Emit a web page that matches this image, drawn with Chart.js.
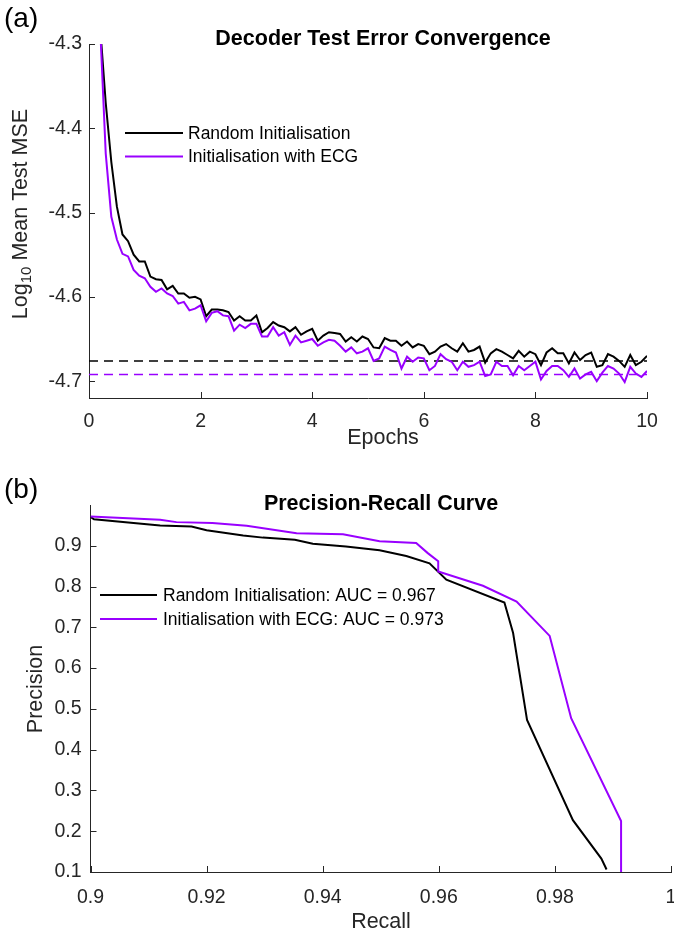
<!DOCTYPE html>
<html lang="en">
<head>
<meta charset="UTF-8">
<title>Decoder Test Error Convergence / Precision-Recall Curve</title>
<script src="https://cdn.jsdelivr.net/npm/chart.js"></script>
<style>
  body { margin: 0; background: #fff; }
  canvas { position: absolute; left: 0; }
  #convChart { top: 0; }
  #prChart { top: 460px; }
</style>
</head>
<body>
<canvas id="convChart" width="674" height="460"></canvas>
<canvas id="prChart" width="674" height="475"></canvas>
<script>
// ---- (a) decoder test error ----
const epochs = [0.2, 0.3, 0.4, 0.5, 0.6, 0.7, 0.8, 0.9,
  1.0, 1.1, 1.2, 1.3, 1.4, 1.5, 1.6, 1.7, 1.8, 1.9,
  2.0, 2.1, 2.2, 2.3, 2.4, 2.5, 2.6, 2.7, 2.8, 2.9,
  3.0, 3.1, 3.2, 3.3, 3.4, 3.5, 3.6, 3.7, 3.8, 3.9,
  4.0, 4.1, 4.2, 4.3, 4.4, 4.5, 4.6, 4.7, 4.8, 4.9,
  5.0, 5.1, 5.2, 5.3, 5.4, 5.5, 5.6, 5.7, 5.8, 5.9,
  6.0, 6.1, 6.2, 6.3, 6.4, 6.5, 6.6, 6.7, 6.8, 6.9,
  7.0, 7.1, 7.2, 7.3, 7.4, 7.5, 7.6, 7.7, 7.8, 7.9,
  8.0, 8.1, 8.2, 8.3, 8.4, 8.5, 8.6, 8.7, 8.8, 8.9,
  9.0, 9.1, 9.2, 9.3, 9.4, 9.5, 9.6, 9.7, 9.8, 9.9,
  10.0];
const mseRandom = [-4.28, -4.37, -4.44, -4.493, -4.526, -4.534, -4.550, -4.558,
  -4.558, -4.576, -4.579, -4.580, -4.591, -4.587, -4.596, -4.596, -4.601, -4.600,
  -4.603, -4.623, -4.615, -4.615, -4.616, -4.618, -4.628, -4.623, -4.628, -4.628,
  -4.622, -4.642, -4.637, -4.630, -4.634, -4.636, -4.641, -4.636, -4.645, -4.641,
  -4.638, -4.652, -4.646, -4.642, -4.643, -4.644, -4.653, -4.648, -4.653, -4.647,
  -4.650, -4.660, -4.661, -4.649, -4.652, -4.652, -4.658, -4.653, -4.660, -4.656,
  -4.658, -4.668, -4.665, -4.659, -4.656, -4.661, -4.665, -4.655, -4.665, -4.663,
  -4.659, -4.678, -4.667, -4.662, -4.665, -4.669, -4.673, -4.664, -4.671, -4.665,
  -4.668, -4.681, -4.666, -4.661, -4.667, -4.667, -4.679, -4.666, -4.675, -4.669,
  -4.666, -4.683, -4.681, -4.668, -4.671, -4.676, -4.683, -4.669, -4.681, -4.677,
  -4.670];
const mseEcg = [-4.28, -4.43, -4.505, -4.532, -4.549, -4.552, -4.568, -4.575,
  -4.578, -4.588, -4.594, -4.590, -4.596, -4.599, -4.608, -4.606, -4.616, -4.614,
  -4.610, -4.629, -4.619, -4.617, -4.622, -4.623, -4.640, -4.633, -4.637, -4.632,
  -4.632, -4.647, -4.647, -4.636, -4.646, -4.642, -4.657, -4.646, -4.654, -4.652,
  -4.650, -4.658, -4.654, -4.651, -4.652, -4.658, -4.665, -4.660, -4.667, -4.665,
  -4.661, -4.676, -4.673, -4.659, -4.663, -4.666, -4.685, -4.671, -4.677, -4.672,
  -4.673, -4.687, -4.682, -4.668, -4.674, -4.677, -4.687, -4.677, -4.683, -4.681,
  -4.677, -4.694, -4.692, -4.677, -4.682, -4.682, -4.693, -4.682, -4.687, -4.682,
  -4.677, -4.698, -4.688, -4.682, -4.682, -4.687, -4.695, -4.685, -4.697, -4.692,
  -4.689, -4.700, -4.690, -4.682, -4.685, -4.691, -4.701, -4.683, -4.691, -4.695,
  -4.688];
const bestRandom = -4.676;
const bestEcg = -4.692;
const epochTicks = [0, 2, 4, 6, 8, 10];
const mseTicks = [-4.7, -4.6, -4.5, -4.4, -4.3];

// ---- (b) precision-recall ----
const recallRandom = [0.9, 0.9006, 0.9097, 0.912, 0.9174, 0.920, 0.9263, 0.9297, 0.9352, 0.9383,
  0.944, 0.9498, 0.9544, 0.9584, 0.9613, 0.9713, 0.9728, 0.9752, 0.9831, 0.9880, 0.9889];
const precisionRandom = [0.971, 0.965, 0.953, 0.950, 0.9475, 0.938, 0.925, 0.920, 0.915, 0.905,
  0.898, 0.889, 0.875, 0.857, 0.817, 0.761, 0.686, 0.473, 0.227, 0.133, 0.106];
const recallEcg = [0.9, 0.912, 0.9148, 0.921, 0.9269, 0.9355, 0.9435, 0.9498, 0.9561, 0.9581,
  0.9599, 0.9599, 0.9676, 0.9734, 0.9791, 0.9828, 0.9914, 0.9914];
const precisionEcg = [0.972, 0.964, 0.958, 0.956, 0.949, 0.931, 0.928, 0.911, 0.907, 0.882,
  0.862, 0.837, 0.802, 0.763, 0.679, 0.477, 0.225, 0.1];
const recallTicks = [0.9, 0.92, 0.94, 0.96, 0.98, 1];
const precisionTicks = [0.1, 0.2, 0.3, 0.4, 0.5, 0.6, 0.7, 0.8, 0.9];

const seriesLabels = ['Random Initialisation', 'Initialisation with ECG'];
const aucValues = [0.967, 0.973];

const FONT = '"Liberation Sans", Arial, Helvetica, sans-serif';
const AXIS = '#262626';
const BLACK = '#000000';
const PURPLE = '#9900ff';

Chart.defaults.font.family = FONT;
Chart.defaults.color = AXIS;

function pts(xs, ys) {
  return xs.map((x, i) => ({ x: x, y: ys[i] }));
}

// inward ticks, panel letter, titles, axis labels and inline legend
function decor(cfg) {
  return {
    id: 'decor',
    afterDraw(chart) {
      const ctx = chart.ctx, a = chart.chartArea;
      const sx = chart.scales.x, sy = chart.scales.y;
      ctx.save();
      ctx.strokeStyle = AXIS;
      ctx.lineWidth = 1;
      ctx.beginPath();
      sx.ticks.forEach(t => {
        const p = Math.round(sx.getPixelForValue(t.value)) + 0.5;
        ctx.moveTo(p, a.bottom); ctx.lineTo(p, a.bottom - 6);
      });
      sy.ticks.forEach(t => {
        const p = Math.round(sy.getPixelForValue(t.value)) + 0.5;
        ctx.moveTo(a.left, p); ctx.lineTo(a.left + 6, p);
      });
      ctx.stroke();

      ctx.fillStyle = BLACK;
      ctx.textAlign = 'left';
      ctx.textBaseline = 'alphabetic';
      ctx.font = '28px ' + FONT;
      ctx.fillText(cfg.letter, 4, cfg.letterY);

      ctx.textAlign = 'center';
      ctx.font = 'bold 21.5px ' + FONT;
      ctx.fillText(cfg.title, cfg.titleX, cfg.titleY);

      ctx.fillStyle = AXIS;
      ctx.font = '21.5px ' + FONT;
      ctx.fillText(cfg.xLabel, cfg.xLabelX, cfg.xLabelY);

      // rotated y label, may hold a subscript part
      ctx.save();
      ctx.translate(cfg.yLabelX, cfg.yLabelY);
      ctx.rotate(-Math.PI / 2);
      ctx.textAlign = 'left';
      ctx.textBaseline = 'middle';
      let w = 0;
      cfg.yLabel.forEach(p => { ctx.font = p.size + 'px ' + FONT; w += ctx.measureText(p.t).width; });
      let cx = -w / 2;
      cfg.yLabel.forEach(p => {
        ctx.font = p.size + 'px ' + FONT;
        ctx.fillText(p.t, cx, p.dy);
        cx += ctx.measureText(p.t).width;
      });
      ctx.restore();

      // legend
      const lg = cfg.legend;
      ctx.font = '17.5px ' + FONT;
      ctx.textAlign = 'left';
      ctx.textBaseline = 'middle';
      lg.items.forEach((it, i) => {
        const y = lg.y0 + i * lg.dy;
        ctx.strokeStyle = it.color;
        ctx.lineWidth = 2;
        ctx.beginPath();
        ctx.moveTo(lg.x1, y); ctx.lineTo(lg.x2, y);
        ctx.stroke();
        ctx.fillStyle = BLACK;
        ctx.fillText(it.label, lg.textX, y + 1);
      });
      ctx.restore();
    }
  };
}

function axisScale(min, max, tickVals, fmt, pad, size, isX) {
  return {
    type: 'linear',
    min: min,
    max: max,
    grid: { display: false, drawTicks: false },
    border: { display: true, color: AXIS, width: 1 },
    ticks: { font: { size: 19.5 }, color: AXIS, padding: pad, maxRotation: 0, autoSkip: false, callback: fmt },
    afterBuildTicks: s => { s.ticks = tickVals.map(v => ({ value: v })); },
    afterFit: s => {
      if (isX) { s.height = size; } else { s.width = size; }
      s.paddingLeft = 0; s.paddingRight = 0; s.paddingTop = 0; s.paddingBottom = 0;
    }
  };
}

new Chart(document.getElementById('convChart'), {
  type: 'scatter',
  data: {
    datasets: [
      { label: seriesLabels[0], data: pts(epochs, mseRandom), borderColor: BLACK, borderWidth: 2, showLine: true, pointRadius: 0, order: 1, clip: 0 },
      { label: seriesLabels[1], data: pts(epochs, mseEcg), borderColor: PURPLE, borderWidth: 2, showLine: true, pointRadius: 0, order: 0, clip: 0 },
      { label: 'best random', data: [{ x: 0, y: bestRandom }, { x: 10, y: bestRandom }], borderColor: BLACK, borderWidth: 1.5, borderDash: [9, 6], showLine: true, pointRadius: 0, order: 2 },
      { label: 'best ecg', data: [{ x: 0, y: bestEcg }, { x: 10, y: bestEcg }], borderColor: PURPLE, borderWidth: 1.5, borderDash: [9, 6], showLine: true, pointRadius: 0, order: 2 }
    ]
  },
  options: {
    responsive: false,
    animation: false,
    layout: { padding: { top: 44, right: 27, left: 0, bottom: 0 } },
    plugins: { legend: { display: false }, tooltip: { enabled: false } },
    scales: {
      x: axisScale(0, 10, epochTicks, v => String(v), 12, 62, true),
      y: axisScale(-4.72, -4.3, mseTicks, v => v.toFixed(1), 7, 89, false)
    }
  },
  plugins: [decor({
    letter: '(a)', letterY: 27,
    title: 'Decoder Test Error Convergence', titleX: 383, titleY: 45,
    xLabel: 'Epochs', xLabelX: 383, xLabelY: 444,
    yLabel: [{ t: 'Log', size: 21.5, dy: 0 }, { t: '10', size: 15, dy: 6 }, { t: ' Mean Test MSE', size: 21.5, dy: 0 }],
    yLabelX: 21, yLabelY: 214,
    legend: { x1: 125, x2: 183, textX: 188, y0: 133, dy: 23.5,
      items: [{ label: seriesLabels[0], color: BLACK }, { label: seriesLabels[1], color: PURPLE }] }
  })]
});

new Chart(document.getElementById('prChart'), {
  type: 'scatter',
  data: {
    datasets: [
      { label: seriesLabels[0], data: pts(recallRandom, precisionRandom), borderColor: BLACK, borderWidth: 2, showLine: true, pointRadius: 0, order: 1, clip: 0 },
      { label: seriesLabels[1], data: pts(recallEcg, precisionEcg), borderColor: PURPLE, borderWidth: 2, showLine: true, pointRadius: 0, order: 0, clip: 0 }
    ]
  },
  options: {
    responsive: false,
    animation: false,
    layout: { padding: { top: 45, right: 3, left: 0, bottom: 0 } },
    plugins: { legend: { display: false }, tooltip: { enabled: false } },
    scales: {
      x: axisScale(0.9, 1, recallTicks, v => String(+v.toFixed(2)), 14, 63, true),
      y: axisScale(0.1, 1, precisionTicks, v => v.toFixed(1), 9, 90.5, false)
    }
  },
  plugins: [decor({
    letter: '(b)', letterY: 38,
    title: 'Precision-Recall Curve', titleX: 381, titleY: 50,
    xLabel: 'Recall', xLabelX: 381, xLabelY: 468,
    yLabel: [{ t: 'Precision', size: 21.5, dy: 0 }],
    yLabelX: 36, yLabelY: 229,
    legend: { x1: 100, x2: 157, textX: 163, y0: 135, dy: 24,
      items: [
        { label: seriesLabels[0] + ': AUC = ' + aucValues[0], color: BLACK },
        { label: seriesLabels[1] + ': AUC = ' + aucValues[1], color: PURPLE }
      ] }
  })]
});
</script>
</body>
</html>
